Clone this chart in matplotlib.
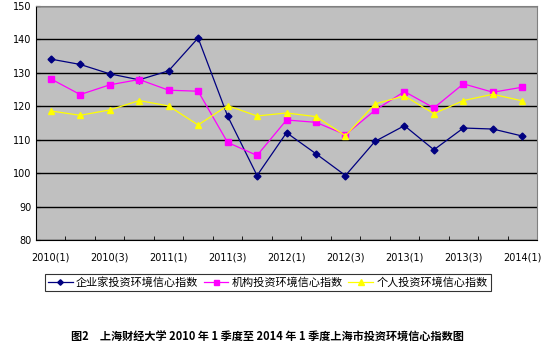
import numpy as np
import matplotlib.pyplot as plt
from matplotlib.ticker import FixedLocator, NullFormatter

plt.rcParams['font.family'] = ['Noto Sans CJK SC', 'DejaVu Sans']

# 2010(1) .. 2014(1), one point per quarter
quarters = ['2010(1)', '2010(2)', '2010(3)', '2010(4)',
            '2011(1)', '2011(2)', '2011(3)', '2011(4)',
            '2012(1)', '2012(2)', '2012(3)', '2012(4)',
            '2013(1)', '2013(2)', '2013(3)', '2013(4)',
            '2014(1)']
entrepreneur = [134.1, 132.5, 129.7, 127.9, 130.6, 140.4, 117.1, 99.3,
                112.1, 105.8, 99.3, 109.5, 114.2, 107.0, 113.5, 113.2, 111.1]
institution = [128.2, 123.5, 126.4, 128.0, 124.8, 124.5, 109.2, 105.3,
               115.9, 115.2, 111.5, 118.8, 124.4, 119.5, 126.7, 124.2, 125.7]
individual = [118.6, 117.3, 118.9, 121.7, 120.1, 114.4, 120.2, 117.1,
              118.0, 116.9, 111.2, 120.7, 123.1, 117.8, 121.7, 123.6, 121.6]
series_names = ['企业家投资环境信心指数', '机构投资环境信心指数', '个人投资环境信心指数']

fig = plt.figure(figsize=(5.58, 3.46), dpi=100)
ax = fig.add_axes([0.0645, 0.306, 0.898, 0.677])
ax.set_facecolor('#C0C0C0')

x = np.arange(len(quarters))
ax.plot(x, entrepreneur, color='#000080', lw=0.9, marker='D', ms=3.5, label=series_names[0])
ax.plot(x, institution, color='#FF00FF', lw=0.9, marker='s', ms=4.5, label=series_names[1])
ax.plot(x, individual, color='#FFFF00', lw=0.9, marker='^', ms=5, label=series_names[2])

ax.set_xlim(-0.5, len(quarters) - 0.5)
ax.set_ylim(80, 150)
ax.set_yticks(np.arange(80, 151, 10))
ax.yaxis.grid(True, color='black', lw=1)
ax.set_axisbelow(True)

# labels every other quarter, tick marks between categories
ax.set_xticks(x[::2])
ax.set_xticklabels(quarters[::2], fontsize=7, family='DejaVu Sans')
ax.tick_params(axis='x', which='major', length=0, pad=9)
ax.xaxis.set_minor_locator(FixedLocator(np.arange(-0.5, len(quarters), 1)))
ax.xaxis.set_minor_formatter(NullFormatter())
ax.tick_params(axis='x', which='minor', length=3, color='black', direction='in')
ax.tick_params(axis='y', length=3, labelsize=7, direction='in')
for lab in ax.get_yticklabels():
    lab.set_family('DejaVu Sans')

for side in ['top', 'right']:
    ax.spines[side].set_color('#808080')
for side in ['left', 'bottom']:
    ax.spines[side].set_color('black')

leg = fig.legend(loc='center', bbox_to_anchor=(0.48, 0.183), ncol=3, fontsize=8,
                 frameon=True, fancybox=False, edgecolor='black', handlelength=2.2,
                 handletextpad=0.3, columnspacing=0.5, borderpad=0.3, markerscale=0.8)
leg.get_frame().set_linewidth(0.8)

fig.text(0.48, 0.026, '图2　上海财经大学 2010 年 1 季度至 2014 年 1 季度上海市投资环境信心指数图',
         ha='center', va='center', fontsize=8, fontweight='bold')

fig.savefig('out.png', dpi=100)
